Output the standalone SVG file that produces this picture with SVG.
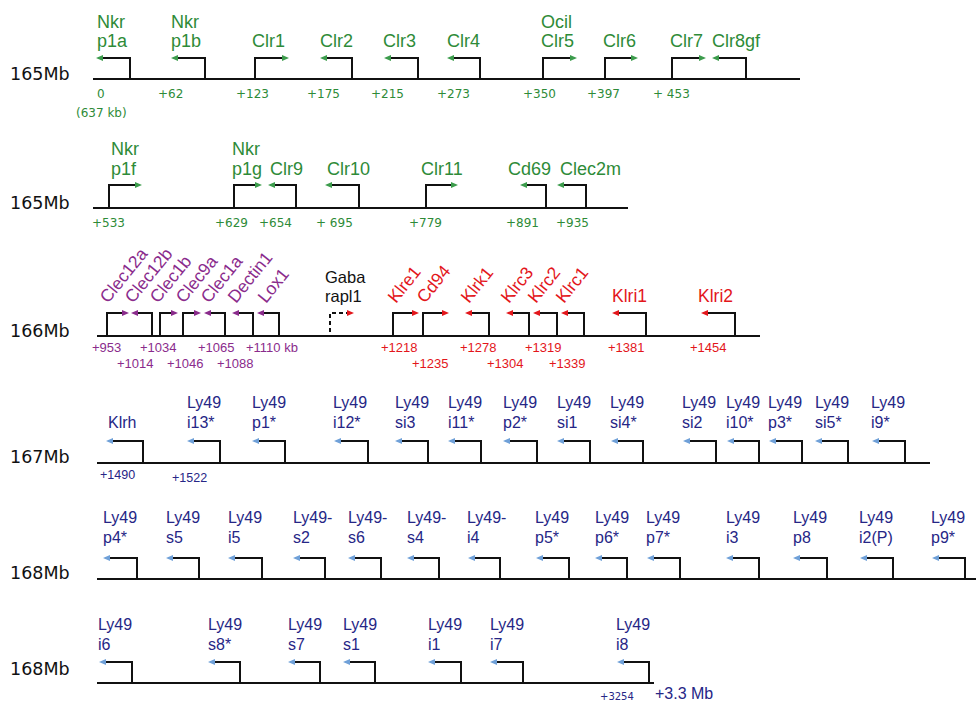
<svg xmlns="http://www.w3.org/2000/svg" width="976" height="705" viewBox="0 0 976 705">
<style>
.bg{fill:#fff}
.ln{stroke:#111;stroke-width:2.2;fill:none}
.gl{stroke:#111;stroke-width:2;fill:none}
.dash{stroke-dasharray:4 3}
.lab{font-family:"Liberation Sans",Arial,sans-serif}
.grn{fill:#2e8b38;font-size:18px}
.pur{fill:#8a2b8c;font-size:17.5px}
.red{fill:#e3161b;font-size:17.5px}
.blk{fill:#111;font-size:16.5px}
.blu{fill:#262686;font-size:16px}
.row{font-family:"DejaVu Sans",Verdana,sans-serif;font-size:17.5px;fill:#111}
.ng{font-family:"DejaVu Sans",Verdana,sans-serif;font-size:12px;fill:#2e8b38}
.np{font-family:"Liberation Sans",Arial,sans-serif;font-size:13px;fill:#8a2b8c}
.nr{font-family:"Liberation Sans",Arial,sans-serif;font-size:13px;fill:#e3161b}
.nb{font-family:"Liberation Sans",Arial,sans-serif;font-size:12.5px;fill:#262686}
</style>
<defs>
<marker id="aG" markerUnits="userSpaceOnUse" markerWidth="8" markerHeight="8" viewBox="0 0 8 8" refX="0" refY="4" orient="auto"><path d="M0,1 L7,4 L0,7 Z" fill="#3c9c4c"/></marker>
<marker id="aP" markerUnits="userSpaceOnUse" markerWidth="8" markerHeight="8" viewBox="0 0 8 8" refX="0" refY="4" orient="auto"><path d="M0,1 L7,4 L0,7 Z" fill="#8a2b8c"/></marker>
<marker id="aR" markerUnits="userSpaceOnUse" markerWidth="8" markerHeight="8" viewBox="0 0 8 8" refX="0" refY="4" orient="auto"><path d="M0,1 L7,4 L0,7 Z" fill="#e3161b"/></marker>
<marker id="aB" markerUnits="userSpaceOnUse" markerWidth="8" markerHeight="8" viewBox="0 0 8 8" refX="0" refY="4" orient="auto"><path d="M0,1 L7,4 L0,7 Z" fill="#6fa0d8"/></marker>
</defs>
<rect class="bg" x="0" y="0" width="976" height="705"/>

<g id="chromosomes">
<path class="ln" d="M93,79H800"/>
<path class="ln" d="M93,208H628"/>
<path class="ln" d="M97,336H760"/>
<path class="ln" d="M97,463H930"/>
<path class="ln" d="M97,579H976"/>
<path class="ln" d="M97,683H654"/>
</g>

<g id="row-labels">
<text class="row" x="10" y="80">165Mb</text>
<text class="row" x="10" y="209">165Mb</text>
<text class="row" x="10" y="337">166Mb</text>
<text class="row" x="10" y="463">167Mb</text>
<text class="row" x="10" y="579">168Mb</text>
<text class="row" x="10" y="675">168Mb</text>
</g>

<!-- Row 1 -->
<g id="nkrp1a"><path class="gl" marker-end="url(#aG)" d="M130,79V58H103"/><text class="lab grn" x="97" y="28">Nkr<tspan x="97" y="47">p1a</tspan></text></g>
<g id="nkrp1b"><path class="gl" marker-end="url(#aG)" d="M205,79V58H178"/><text class="lab grn" x="171" y="28">Nkr<tspan x="171" y="47">p1b</tspan></text></g>
<g id="clr1"><path class="gl" marker-end="url(#aG)" d="M255,79V58H282"/><text class="lab grn" x="252" y="47">Clr1</text></g>
<g id="clr2"><path class="gl" marker-end="url(#aG)" d="M352,79V58H327"/><text class="lab grn" x="320" y="47">Clr2</text></g>
<g id="clr3"><path class="gl" marker-end="url(#aG)" d="M418,79V58H391"/><text class="lab grn" x="383" y="47">Clr3</text></g>
<g id="clr4"><path class="gl" marker-end="url(#aG)" d="M480,79V58H454"/><text class="lab grn" x="447" y="47">Clr4</text></g>
<g id="clr5"><path class="gl" marker-end="url(#aG)" d="M543,79V58H570"/><text class="lab grn" x="541" y="28">Ocil<tspan x="541" y="47">Clr5</tspan></text></g>
<g id="clr6"><path class="gl" marker-end="url(#aG)" d="M605,79V58H631"/><text class="lab grn" x="603" y="47">Clr6</text></g>
<g id="clr7"><path class="gl" marker-end="url(#aG)" d="M672,79V58H699"/><text class="lab grn" x="670" y="47">Clr7</text></g>
<g id="clr8gf"><path class="gl" marker-end="url(#aG)" d="M746,79V58H719"/><text class="lab grn" x="712" y="47">Clr8gf</text></g>
<g id="pos-row1">
<text class="ng" x="97" y="98">0</text>
<text class="ng" x="76" y="117">(637 kb)</text>
<text class="ng" x="158" y="98">+62</text>
<text class="ng" x="236" y="98">+123</text>
<text class="ng" x="307" y="98">+175</text>
<text class="ng" x="371" y="98">+215</text>
<text class="ng" x="437" y="98">+273</text>
<text class="ng" x="523" y="98">+350</text>
<text class="ng" x="587" y="98">+397</text>
<text class="ng" x="653" y="98">+ 453</text>
</g>

<!-- Row 2 -->
<g id="nkrp1f"><path class="gl" marker-end="url(#aG)" d="M109,208V185H135"/><text class="lab grn" x="111" y="155">Nkr<tspan x="111" y="175">p1f</tspan></text></g>
<g id="nkrp1g"><path class="gl" marker-end="url(#aG)" d="M234,208V185H255"/><text class="lab grn" x="232" y="155">Nkr<tspan x="232" y="175">p1g</tspan></text></g>
<g id="clr9"><path class="gl" marker-end="url(#aG)" d="M296,208V185H275"/><text class="lab grn" x="270" y="175">Clr9</text></g>
<g id="clr10"><path class="gl" marker-end="url(#aG)" d="M359,208V185H332"/><text class="lab grn" x="327" y="175">Clr10</text></g>
<g id="clr11"><path class="gl" marker-end="url(#aG)" d="M426,208V185H451"/><text class="lab grn" x="421" y="175">Clr11</text></g>
<g id="cd69"><path class="gl" marker-end="url(#aG)" d="M546,208V185H527"/><text class="lab grn" x="508" y="175">Cd69</text></g>
<g id="clec2m"><path class="gl" marker-end="url(#aG)" d="M586,208V185H564"/><text class="lab grn" x="560" y="175">Clec2m</text></g>
<g id="pos-row2">
<text class="ng" x="92" y="227">+533</text>
<text class="ng" x="215" y="227">+629</text>
<text class="ng" x="259" y="227">+654</text>
<text class="ng" x="316" y="227">+ 695</text>
<text class="ng" x="409" y="227">+779</text>
<text class="ng" x="506" y="227">+891</text>
<text class="ng" x="556" y="227">+935</text>
</g>

<!-- Row 3 -->
<g id="clec12a"><path class="gl" marker-end="url(#aP)" d="M107,336V313H122"/><text class="lab pur" transform="translate(108,304) rotate(-51)">Clec12a</text></g>
<g id="clec12b"><path class="gl" marker-end="url(#aP)" d="M152,336V313H138"/><text class="lab pur" transform="translate(133,304) rotate(-51)">Clec12b</text></g>
<g id="clec1b"><path class="gl" marker-end="url(#aP)" d="M160,336V313H171"/><text class="lab pur" transform="translate(158,304) rotate(-51)">Clec1b</text></g>
<g id="clec9a"><path class="gl" marker-end="url(#aP)" d="M183,336V313H194"/><text class="lab pur" transform="translate(184,304) rotate(-51)">Clec9a</text></g>
<g id="clec1a"><path class="gl" marker-end="url(#aP)" d="M225,336V313H211"/><text class="lab pur" transform="translate(209,304) rotate(-51)">Clec1a</text></g>
<g id="dectin1"><path class="gl" marker-end="url(#aP)" d="M253,336V313H239"/><text class="lab pur" transform="translate(236,304) rotate(-51)">Dectin1</text></g>
<g id="lox1"><path class="gl" marker-end="url(#aP)" d="M279,336V313H264"/><text class="lab pur" transform="translate(266,304) rotate(-51)">Lox1</text></g>
<g id="gabarapl1"><path class="gl dash" marker-end="url(#aR)" d="M330,332V313H347"/><text class="lab blk" x="325" y="283">Gaba<tspan x="325" y="302">rapl1</tspan></text></g>
<g id="klre1"><path class="gl" marker-end="url(#aR)" d="M393,336V313H412"/><text class="lab red" transform="translate(396,304) rotate(-51)">Klre1</text></g>
<g id="cd94"><path class="gl" marker-end="url(#aR)" d="M423,336V313H442"/><text class="lab red" transform="translate(425,304) rotate(-51)">Cd94</text></g>
<g id="klrk1"><path class="gl" marker-end="url(#aR)" d="M489,336V313H472"/><text class="lab red" transform="translate(469,304) rotate(-51)">Klrk1</text></g>
<g id="klrc3"><path class="gl" marker-end="url(#aR)" d="M529,336V313H513"/><text class="lab red" transform="translate(509,304) rotate(-51)">Klrc3</text></g>
<g id="klrc2"><path class="gl" marker-end="url(#aR)" d="M557,336V313H540"/><text class="lab red" transform="translate(536,304) rotate(-51)">Klrc2</text></g>
<g id="klrc1"><path class="gl" marker-end="url(#aR)" d="M584,336V313H568"/><text class="lab red" transform="translate(564,304) rotate(-51)">Klrc1</text></g>
<g id="klri1"><path class="gl" marker-end="url(#aR)" d="M646,336V313H619"/><text class="lab red" x="612" y="302">Klri1</text></g>
<g id="klri2"><path class="gl" marker-end="url(#aR)" d="M735,336V313H708"/><text class="lab red" x="698" y="302">Klri2</text></g>
<g id="pos-row3">
<text class="np" x="92" y="352">+953</text>
<text class="np" x="117" y="368">+1014</text>
<text class="np" x="140" y="352">+1034</text>
<text class="np" x="167" y="368">+1046</text>
<text class="np" x="198" y="352">+1065</text>
<text class="np" x="217" y="368">+1088</text>
<text class="np" x="246" y="352">+1110 kb</text>
<text class="nr" x="381" y="352">+1218</text>
<text class="nr" x="412" y="368">+1235</text>
<text class="nr" x="460" y="352">+1278</text>
<text class="nr" x="487" y="368">+1304</text>
<text class="nr" x="525" y="352">+1319</text>
<text class="nr" x="549" y="368">+1339</text>
<text class="nr" x="608" y="352">+1381</text>
<text class="nr" x="690" y="352">+1454</text>
</g>

<!-- Row 4 -->
<g id="klrh"><path class="gl" marker-end="url(#aB)" d="M143,463V441H113"/><text class="lab blu" x="108" y="428">Klrh</text></g>
<g id="ly49i13"><path class="gl" marker-end="url(#aB)" d="M220,463V441H194"/><text class="lab blu" x="187" y="408">Ly49<tspan x="187" y="428">i13*</tspan></text></g>
<g id="ly49p1"><path class="gl" marker-end="url(#aB)" d="M285,463V441H259"/><text class="lab blu" x="252" y="408">Ly49<tspan x="252" y="428">p1*</tspan></text></g>
<g id="ly49i12"><path class="gl" marker-end="url(#aB)" d="M368,463V441H341"/><text class="lab blu" x="333" y="408">Ly49<tspan x="333" y="428">i12*</tspan></text></g>
<g id="ly49si3"><path class="gl" marker-end="url(#aB)" d="M428,463V441H402"/><text class="lab blu" x="395" y="408">Ly49<tspan x="395" y="428">si3</tspan></text></g>
<g id="ly49i11"><path class="gl" marker-end="url(#aB)" d="M481,463V441H455"/><text class="lab blu" x="448" y="408">Ly49<tspan x="448" y="428">i11*</tspan></text></g>
<g id="ly49p2"><path class="gl" marker-end="url(#aB)" d="M537,463V441H510"/><text class="lab blu" x="503" y="408">Ly49<tspan x="503" y="428">p2*</tspan></text></g>
<g id="ly49si1"><path class="gl" marker-end="url(#aB)" d="M590,463V441H564"/><text class="lab blu" x="557" y="408">Ly49<tspan x="557" y="428">si1</tspan></text></g>
<g id="ly49si4"><path class="gl" marker-end="url(#aB)" d="M643,463V441H618"/><text class="lab blu" x="610" y="408">Ly49<tspan x="610" y="428">si4*</tspan></text></g>
<g id="ly49si2"><path class="gl" marker-end="url(#aB)" d="M716,463V441H690"/><text class="lab blu" x="682" y="408">Ly49<tspan x="682" y="428">si2</tspan></text></g>
<g id="ly49i10"><path class="gl" marker-end="url(#aB)" d="M759,463V441H734"/><text class="lab blu" x="726" y="408">Ly49<tspan x="726" y="428">i10*</tspan></text></g>
<g id="ly49p3"><path class="gl" marker-end="url(#aB)" d="M802,463V441H776"/><text class="lab blu" x="768" y="408">Ly49<tspan x="768" y="428">p3*</tspan></text></g>
<g id="ly49si5"><path class="gl" marker-end="url(#aB)" d="M848,463V441H822"/><text class="lab blu" x="815" y="408">Ly49<tspan x="815" y="428">si5*</tspan></text></g>
<g id="ly49i9"><path class="gl" marker-end="url(#aB)" d="M905,463V441H879"/><text class="lab blu" x="871" y="408">Ly49<tspan x="871" y="428">i9*</tspan></text></g>
<g id="pos-row4">
<text class="nb" x="100" y="479">+1490</text>
<text class="nb" x="172" y="482">+1522</text>
</g>

<!-- Row 5 -->
<g id="ly49p4"><path class="gl" marker-end="url(#aB)" d="M137,579V558H110"/><text class="lab blu" x="103" y="523">Ly49<tspan x="103" y="543">p4*</tspan></text></g>
<g id="ly49s5"><path class="gl" marker-end="url(#aB)" d="M199,579V558H173"/><text class="lab blu" x="166" y="523">Ly49<tspan x="166" y="543">s5</tspan></text></g>
<g id="ly49i5"><path class="gl" marker-end="url(#aB)" d="M262,579V558H235"/><text class="lab blu" x="228" y="523">Ly49<tspan x="228" y="543">i5</tspan></text></g>
<g id="ly49s2"><path class="gl" marker-end="url(#aB)" d="M325,579V558H300"/><text class="lab blu" x="293" y="523">Ly49-<tspan x="293" y="543">s2</tspan></text></g>
<g id="ly49s6"><path class="gl" marker-end="url(#aB)" d="M381,579V558H355"/><text class="lab blu" x="348" y="523">Ly49-<tspan x="348" y="543">s6</tspan></text></g>
<g id="ly49s4"><path class="gl" marker-end="url(#aB)" d="M439,579V558H414"/><text class="lab blu" x="407" y="523">Ly49-<tspan x="407" y="543">s4</tspan></text></g>
<g id="ly49i4"><path class="gl" marker-end="url(#aB)" d="M500,579V558H475"/><text class="lab blu" x="467" y="523">Ly49-<tspan x="467" y="543">i4</tspan></text></g>
<g id="ly49p5"><path class="gl" marker-end="url(#aB)" d="M569,579V558H543"/><text class="lab blu" x="535" y="523">Ly49<tspan x="535" y="543">p5*</tspan></text></g>
<g id="ly49p6"><path class="gl" marker-end="url(#aB)" d="M627,579V558H602"/><text class="lab blu" x="595" y="523">Ly49<tspan x="595" y="543">p6*</tspan></text></g>
<g id="ly49p7"><path class="gl" marker-end="url(#aB)" d="M680,579V558H654"/><text class="lab blu" x="646" y="523">Ly49<tspan x="646" y="543">p7*</tspan></text></g>
<g id="ly49i3"><path class="gl" marker-end="url(#aB)" d="M759,579V558H733"/><text class="lab blu" x="726" y="523">Ly49<tspan x="726" y="543">i3</tspan></text></g>
<g id="ly49p8"><path class="gl" marker-end="url(#aB)" d="M827,579V558H800"/><text class="lab blu" x="793" y="523">Ly49<tspan x="793" y="543">p8</tspan></text></g>
<g id="ly49i2p"><path class="gl" marker-end="url(#aB)" d="M893,579V558H867"/><text class="lab blu" x="859" y="523">Ly49<tspan x="859" y="543">i2(P)</tspan></text></g>
<g id="ly49p9"><path class="gl" marker-end="url(#aB)" d="M965,579V558H939"/><text class="lab blu" x="931" y="523">Ly49<tspan x="931" y="543">p9*</tspan></text></g>

<!-- Row 6 -->
<g id="ly49i6"><path class="gl" marker-end="url(#aB)" d="M132,683V662H106"/><text class="lab blu" x="98" y="630">Ly49<tspan x="98" y="650">i6</tspan></text></g>
<g id="ly49s8"><path class="gl" marker-end="url(#aB)" d="M240,683V662H215"/><text class="lab blu" x="208" y="630">Ly49<tspan x="208" y="650">s8*</tspan></text></g>
<g id="ly49s7"><path class="gl" marker-end="url(#aB)" d="M320,683V662H295"/><text class="lab blu" x="288" y="630">Ly49<tspan x="288" y="650">s7</tspan></text></g>
<g id="ly49s1"><path class="gl" marker-end="url(#aB)" d="M375,683V662H350"/><text class="lab blu" x="343" y="630">Ly49<tspan x="343" y="650">s1</tspan></text></g>
<g id="ly49i1"><path class="gl" marker-end="url(#aB)" d="M461,683V662H435"/><text class="lab blu" x="428" y="630">Ly49<tspan x="428" y="650">i1</tspan></text></g>
<g id="ly49i7"><path class="gl" marker-end="url(#aB)" d="M523,683V662H497"/><text class="lab blu" x="490" y="630">Ly49<tspan x="490" y="650">i7</tspan></text></g>
<g id="ly49i8"><path class="gl" marker-end="url(#aB)" d="M649,683V662H624"/><text class="lab blu" x="616" y="630">Ly49<tspan x="616" y="650">i8</tspan></text></g>
<g id="pos-row6">
<text x="600" y="700" style="font-family:'DejaVu Sans',Verdana,sans-serif;font-size:10px;fill:#262686">+3254</text>
<text x="655" y="699" style="font-family:'Liberation Sans',Arial,sans-serif;font-size:16px;fill:#262686">+3.3 Mb</text>
</g>
</svg>
